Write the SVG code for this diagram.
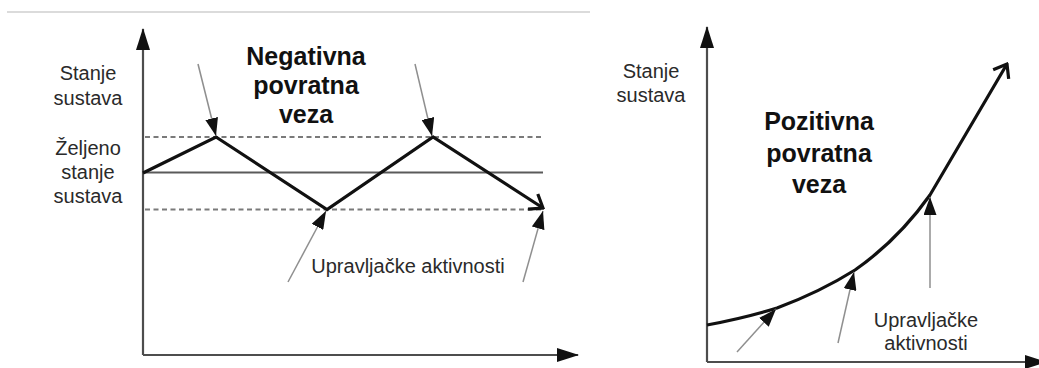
<svg xmlns="http://www.w3.org/2000/svg" width="1039" height="368" viewBox="0 0 1039 368">
  <style>
    .lbl { font-family: "Liberation Sans", Arial, sans-serif; font-size: 20px; fill: #2a2a2a; text-anchor: middle; }
    .ttl { font-family: "Liberation Sans", Arial, sans-serif; font-size: 25px; font-weight: bold; fill: #111; text-anchor: middle; }
    .axis { stroke: #4d4d4d; stroke-width: 2.2; fill: none; }
    .ref { stroke: #5a5a5a; stroke-width: 2; fill: none; }
    .band { stroke: #7a7a7a; stroke-width: 2; stroke-dasharray: 5 3.5; fill: none; }
    .state { stroke: #111; stroke-width: 3.2; fill: none; stroke-linejoin: miter; }
    .action { stroke: #8f8f8f; stroke-width: 1.5; fill: none; }
  </style>
  <defs>
    <marker id="axisHead" markerUnits="userSpaceOnUse" markerWidth="22" markerHeight="14" viewBox="0 0 22 14" refX="21" refY="7" orient="auto">
      <path d="M0,0 L22,7 L0,14 Z" fill="#111"/>
    </marker>
    <marker id="actHead" markerUnits="userSpaceOnUse" markerWidth="18" markerHeight="13" viewBox="0 0 18 13" refX="18" refY="6.5" orient="auto">
      <path d="M0,0 L18,6.5 L0,13 Z" fill="#111"/>
    </marker>
    <marker id="openHead" markerUnits="userSpaceOnUse" markerWidth="16" markerHeight="22" viewBox="0 0 16 22" refX="14" refY="11" orient="auto">
      <path d="M2,2 L14,11 L2,20" fill="none" stroke="#111" stroke-width="3.2"/>
    </marker>
  </defs>

  <!-- thin rule across the top -->
  <line x1="7" y1="12" x2="590" y2="12" stroke="#cfcfcf" stroke-width="1.5"/>

  <!-- Negative feedback chart -->
  <g id="negative-chart">
    <g id="neg-axes">
      <line class="axis" x1="143" y1="355" x2="143" y2="29" marker-end="url(#axisHead)"/>
      <line class="axis" x1="143" y1="355" x2="578" y2="355" marker-end="url(#axisHead)"/>
    </g>
    <g id="neg-levels">
      <line class="band" x1="145" y1="137" x2="541" y2="137"/>
      <line class="ref" x1="143" y1="172.5" x2="543" y2="172.5"/>
      <line class="band" x1="145" y1="209.5" x2="541" y2="209.5"/>
    </g>
    <g id="neg-connectors">
      <polyline class="state" points="143,173 216,137 327,209.5 433,137 543,208" marker-end="url(#openHead)"/>
      <line class="action" x1="198" y1="64" x2="216" y2="136" marker-end="url(#actHead)"/>
      <line class="action" x1="415" y1="64" x2="432" y2="136" marker-end="url(#actHead)"/>
      <line class="action" x1="288" y1="282" x2="326" y2="211" marker-end="url(#actHead)"/>
      <line class="action" x1="523" y1="282" x2="543" y2="211" marker-end="url(#actHead)"/>
    </g>
    <g id="neg-labels">
      <text class="lbl" x="88" y="80">Stanje</text>
      <text class="lbl" x="88" y="105">sustava</text>
      <text class="lbl" x="88" y="155">Željeno</text>
      <text class="lbl" x="88" y="179">stanje</text>
      <text class="lbl" x="88" y="203">sustava</text>
      <text class="ttl" x="306" y="65">Negativna</text>
      <text class="ttl" x="306" y="94">povratna</text>
      <text class="ttl" x="306" y="123">veza</text>
      <text class="lbl" x="408" y="273">Upravljačke aktivnosti</text>
    </g>
  </g>

  <!-- Positive feedback chart -->
  <g id="positive-chart">
    <g id="pos-axes">
      <line class="axis" x1="707" y1="362" x2="707" y2="27" marker-end="url(#axisHead)"/>
      <line class="axis" x1="707" y1="362" x2="1046" y2="362" marker-end="url(#axisHead)"/>
    </g>
    <g id="pos-connectors">
      <path class="state" d="M707,325 Q745,318 777,308 Q820,292 855,270 Q898,240 930,195 L1007,64" marker-end="url(#openHead)"/>
      <line class="action" x1="737" y1="352" x2="776" y2="309" marker-end="url(#actHead)"/>
      <line class="action" x1="838" y1="343" x2="854" y2="272" marker-end="url(#actHead)"/>
      <line class="action" x1="930" y1="288" x2="930" y2="197" marker-end="url(#actHead)"/>
    </g>
    <g id="pos-labels">
      <text class="lbl" x="651" y="78">Stanje</text>
      <text class="lbl" x="651" y="102">sustava</text>
      <text class="ttl" x="819" y="130">Pozitivna</text>
      <text class="ttl" x="819" y="162">povratna</text>
      <text class="ttl" x="819" y="193">veza</text>
      <text class="lbl" x="926" y="327">Upravljačke</text>
      <text class="lbl" x="926" y="350">aktivnosti</text>
    </g>
  </g>
</svg>
